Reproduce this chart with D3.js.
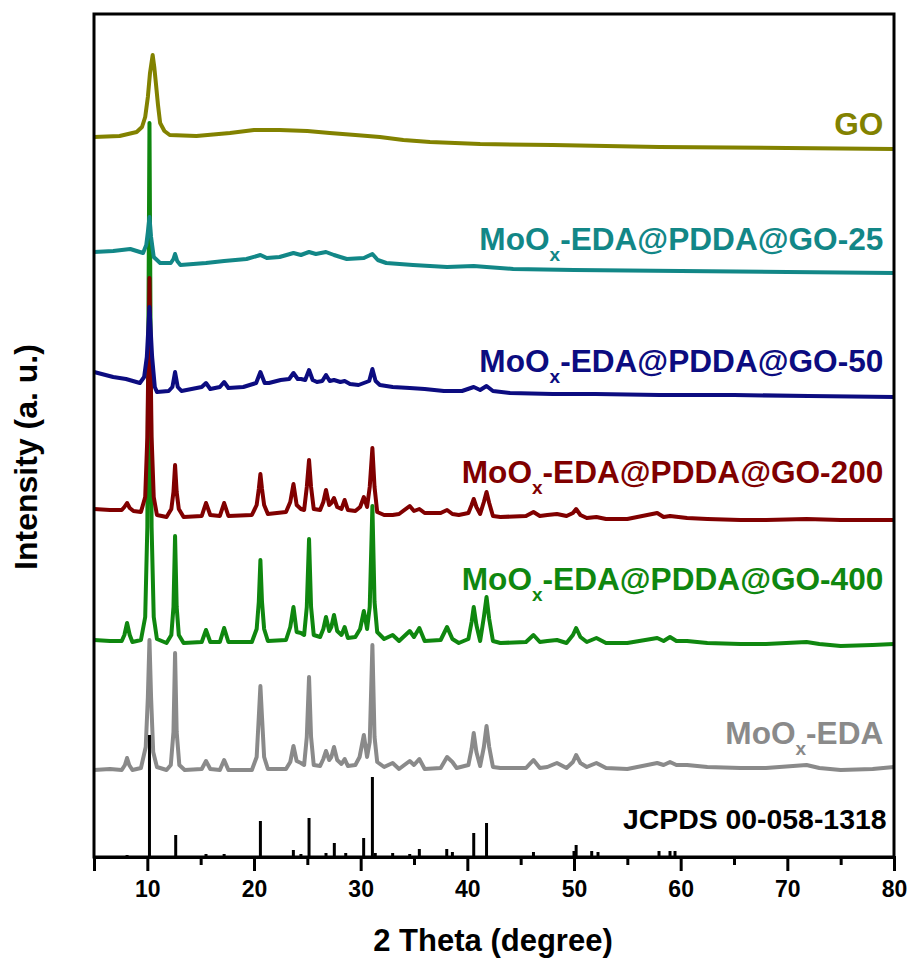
<!DOCTYPE html>
<html>
<head>
<meta charset="utf-8">
<script src="https://d3js.org/d3.v7.min.js"></script>
<style>
  body { margin: 0; background: #fff; }
  text { font-family: "Liberation Sans", Arial, sans-serif; font-weight: bold; }
</style>
</head>
<body>
<div id="graph"></div>
<script>
// XRD patterns, stacked with offsets (intensity in a. u.)
var majorTicks = [10, 20, 30, 40, 50, 60, 70, 80];
var minorTicks = [5, 15, 25, 35, 45, 55, 65, 75];

var seriesNames = ["GO", "-EDA@PDDA@GO-25", "-EDA@PDDA@GO-50", "-EDA@PDDA@GO-200", "-EDA@PDDA@GO-400", "-EDA", "JCPDS 00-058-1318"];
var seriesColors = ["#828200", "#128787", "#0c0c80", "#800000", "#0f870f", "#8a8a8a", "#000000"];

var goData = [[5,720],[7.4,721],[9.0,725],[9.5,730],[9.8,740],[10.05,760],[10.25,784],[10.5,802],[10.65,790],[10.8,774],[11.0,752],[11.2,734],[11.6,726],[12.1,722],[14.6,721],[17.75,724],[20,727],[22.4,727],[25,726],[27.1,724],[29.5,722],[31.8,720],[34,717],[36.5,715],[41.2,713],[48,712],[58,710],[70,709],[80,708]];

var go25Data = [[5,605],[6.8,606],[8.4,608],[9.6,604],[9.9,612],[10.05,625],[10.2,640],[10.35,620],[10.6,600],[11.2,594],[12.2,594],[12.45,598],[12.6,603],[12.8,596],[13.1,592],[15.5,594],[17.2,596],[19.3,598],[20.6,602],[21.2,599],[22.4,600],[23.7,604],[24.4,602],[25.16,605],[25.8,603],[26.75,605],[27.5,602],[28.7,598],[30.3,599],[31.1,603],[31.6,597],[32.4,594],[34.9,592],[38.1,590],[40.6,591],[41.8,590],[44.3,588],[50,587],[60,586],[70,585],[80,584]];

var go50Data = [[5,485],[6.8,480],[8.0,478],[9.3,474],[9.7,480],[9.95,500],[10.2,550],[10.45,500],[10.7,470],[10.9,465],[12.0,466],[12.35,470],[12.6,485],[12.85,470],[13.2,466],[15.1,470],[15.5,474],[15.9,468],[16.8,470],[17.2,475],[17.6,469],[19.0,470],[20.2,474],[20.6,485],[21.0,474],[21.4,474],[22.5,477],[23.3,478],[23.7,484],[24.1,478],[24.4,478],[24.8,477],[25.16,487],[25.5,477],[25.9,475],[26.4,476],[26.75,482],[27.1,476],[27.5,477],[28.1,475],[28.5,476],[29.0,473],[29.8,472],[30.3,474],[30.8,476],[31.1,488],[31.4,476],[31.8,472],[33.0,470],[34.6,469],[36.0,468],[37.8,466],[39.5,466],[40.6,470],[41.2,467],[41.8,471],[42.4,466],[44,464],[48,463],[52,463],[58,462],[65,462],[72,461],[80,460]];

var go200Data = [[5,348],[6.5,347],[7.6,347],[7.85,350],[8.1,354],[8.35,349],[8.7,346],[9.4,345],[9.8,360],[10.0,420],[10.2,579],[10.4,420],[10.6,360],[10.9,342],[11.8,340],[12.25,348],[12.45,365],[12.6,392],[12.75,365],[12.95,348],[13.4,340],[15.1,341],[15.5,354],[15.9,342],[16.8,341],[17.2,354],[17.6,341],[19.8,342],[20.25,352],[20.45,368],[20.6,383],[20.75,368],[20.95,352],[21.3,343],[23.0,345],[23.4,355],[23.7,373],[24.0,352],[24.4,348],[24.7,347],[24.95,370],[25.16,397],[25.35,370],[25.6,348],[26.2,347],[26.5,355],[26.75,367],[27.05,352],[27.25,354],[27.5,359],[27.8,350],[28.2,348],[28.5,357],[28.8,347],[29.5,346],[29.95,350],[30.3,360],[30.6,350],[30.85,370],[31.1,409],[31.3,370],[31.55,345],[32.2,342],[33.0,342],[33.6,343],[34.6,351],[35.0,346],[35.5,348],[36.0,344],[37.5,344],[38.1,347],[38.6,343],[39.2,342],[40.1,344],[40.4,352],[40.6,358],[40.85,350],[41.2,343],[41.55,355],[41.8,365],[42.05,354],[42.4,341],[43.1,340],[45.5,341],[46.2,345],[46.8,341],[47.5,342],[48.4,343],[49.3,341],[49.9,344],[50.2,348],[50.6,342],[51.2,339],[52.1,340],[53.0,338],[55,338],[57.8,344],[58.4,340],[59.0,341],[60.6,339],[62.5,338],[65.6,337],[68,337],[71.8,338],[75,337],[78,337],[80,337]];

var go400Data = [[5,217],[6.5,216],[7.6,216],[7.85,222],[8.1,234],[8.35,222],[8.6,215],[9.4,217],[9.8,240],[10.0,330],[10.2,734],[10.4,330],[10.6,240],[10.9,218],[11.8,214],[12.25,222],[12.45,250],[12.6,321],[12.75,250],[12.95,222],[13.4,214],[15.1,215],[15.5,227],[15.9,215],[16.8,215],[17.2,229],[17.6,215],[19.8,215],[20.25,228],[20.45,255],[20.6,297],[20.75,255],[20.95,228],[21.3,216],[23.0,217],[23.4,230],[23.7,250],[24.0,225],[24.4,224],[24.7,222],[24.95,250],[25.16,318],[25.35,250],[25.6,222],[26.2,220],[26.5,228],[26.75,240],[27.05,226],[27.25,230],[27.5,242],[27.8,226],[28.2,222],[28.5,230],[28.8,219],[29.5,220],[29.95,228],[30.3,246],[30.6,228],[30.85,250],[31.1,351],[31.3,255],[31.55,225],[32.2,218],[33.0,222],[33.6,216],[34.6,226],[35.0,220],[35.5,229],[36.0,216],[37.5,217],[38.1,230],[38.6,218],[39.2,214],[40.1,218],[40.4,235],[40.6,250],[40.85,232],[41.2,216],[41.55,240],[41.8,260],[42.05,238],[42.4,216],[43.1,214],[45.5,215],[46.2,222],[46.8,215],[47.5,216],[48.4,217],[49.3,214],[49.9,222],[50.2,229],[50.6,220],[51.2,215],[52.1,219],[53.0,214],[55,214],[57.8,219],[58.4,216],[59.0,220],[59.6,216],[60.6,216],[62.5,214],[65.6,213],[68,213],[71.8,215],[73,213],[75,211],[78,212],[80,213]];

var moEdaData = [[5,87],[6.5,88],[7.6,87],[7.9,92],[8.1,99],[8.3,92],[8.6,87],[9.4,89],[9.85,110],[10.05,160],[10.2,217],[10.35,160],[10.55,105],[10.9,90],[11.8,87],[12.2,92],[12.45,125],[12.6,204],[12.75,125],[13.0,92],[13.5,87],[15.1,88],[15.5,96],[15.9,88],[16.8,87],[17.2,97],[17.6,87],[19.8,87],[20.25,100],[20.45,140],[20.6,171],[20.75,140],[20.95,100],[21.3,88],[23.0,88],[23.4,95],[23.7,111],[24.0,96],[24.4,94],[24.7,92],[24.95,120],[25.16,180],[25.35,120],[25.6,92],[26.2,91],[26.5,98],[26.75,106],[27.05,97],[27.25,100],[27.5,110],[27.8,97],[28.2,93],[28.5,98],[28.8,91],[29.5,92],[29.9,100],[30.3,122],[30.6,100],[30.85,115],[31.1,212],[31.3,120],[31.55,95],[32.2,90],[33.0,94],[33.6,88],[34.6,96],[35.0,92],[35.5,98],[36.0,88],[37.5,89],[38.1,100],[38.6,95],[39.0,89],[40.1,92],[40.4,108],[40.6,124],[40.85,105],[41.2,91],[41.55,110],[41.8,131],[42.05,110],[42.4,90],[43.1,89],[45.5,89],[46.2,97],[46.8,89],[47.5,90],[48.4,94],[49.3,89],[49.9,95],[50.2,102],[50.6,94],[51.2,90],[52.1,94],[53.0,89],[55,88],[57.8,94],[58.4,92],[59.0,95],[59.6,92],[60.6,92],[62.5,90],[65.6,89],[68,89],[71.8,92],[73,89],[75,87],[78,88],[80,90]];

// reference card: [2theta, relative height]
var jcpdsSticks = [[8.1,2],[10.2,122],[12.66,22],[15.5,3],[17.2,3],[20.6,36],[23.69,7],[24.4,3],[25.16,39],[26.75,4],[27.53,14],[28.6,4],[30.28,19],[31.1,80],[31.37,4],[33.0,4],[34.6,3],[35.5,8],[38.07,8],[38.6,5],[40.6,24],[41.8,34],[46.2,5],[50.0,6],[50.2,12],[51.66,6],[52.25,5],[57.97,6],[59.0,6],[59.47,6]];

// label baselines, in intensity units
var labelLevels = [722, 607, 485, 374, 267, 113, 28];

// set the dimensions and margins of the graph
var margin = {top: 14, right: 18, bottom: 104, left: 94},
    width = 912 - margin.left - margin.right,
    height = 961 - margin.top - margin.bottom;

var svg = d3.select("#graph")
  .append("svg")
    .attr("width", 912)
    .attr("height", 961)
  .append("g")
    .attr("transform", "translate(" + margin.left + "," + margin.top + ")");

var x = d3.scaleLinear().domain([5, 80]).range([0, width]);
var y = d3.scaleLinear().domain([0, height]).range([height, 0]);

var line = d3.line()
  .x(function(d) { return x(d[0]); })
  .y(function(d) { return y(d[1]); });

// bottom-most first so upper patterns sit on top
var traces = [
  {data: moEdaData, color: seriesColors[5]},
  {data: go400Data, color: seriesColors[4]},
  {data: go200Data, color: seriesColors[3]},
  {data: go50Data, color: seriesColors[2]},
  {data: go25Data, color: seriesColors[1]},
  {data: goData, color: seriesColors[0]}
];

// reference sticks
svg.selectAll("line.stick")
  .data(jcpdsSticks)
  .enter()
  .append("line")
    .attr("class", "stick")
    .attr("x1", function(d) { return x(d[0]); })
    .attr("x2", function(d) { return x(d[0]); })
    .attr("y1", y(0))
    .attr("y2", function(d) { return y(d[1]); })
    .style("stroke", "#000")
    .style("stroke-width", 3);

svg.selectAll("path.trace")
  .data(traces)
  .enter()
  .append("path")
    .attr("class", "trace")
    .attr("d", function(d) { return line(d.data); })
    .style("fill", "none")
    .style("stroke", function(d) { return d.color; })
    .style("stroke-width", 4)
    .style("stroke-linejoin", "round");

// sticks overlay the grey pattern
svg.selectAll("line.stick").raise();
svg.selectAll("path.trace").filter(function(d, i) { return i > 0; }).raise();

// frame
svg.append("rect")
  .attr("width", width)
  .attr("height", height)
  .style("fill", "none")
  .style("stroke", "#000")
  .style("stroke-width", 3);

// X axis, major and minor ticks
var xAxis = svg.append("g")
  .attr("transform", "translate(0," + height + ")")
  .call(d3.axisBottom(x).tickValues(majorTicks).tickSize(14).tickPadding(10).tickFormat(d3.format("d")));
xAxis.select(".domain").style("stroke-width", 3);
xAxis.selectAll(".tick line").style("stroke-width", 3);
xAxis.selectAll(".tick text").style("font-size", "23px").style("font-family", "Liberation Sans, Arial").style("font-weight", "bold");

var xMinor = svg.append("g")
  .attr("transform", "translate(0," + height + ")")
  .call(d3.axisBottom(x).tickValues(minorTicks).tickSize(8).tickFormat(""));
xMinor.select(".domain").remove();
xMinor.selectAll(".tick line").style("stroke-width", 3);

// axis titles
svg.append("text")
  .attr("x", width / 2 - 1)
  .attr("y", 951 - margin.top)
  .attr("text-anchor", "middle")
  .style("font-size", "31px")
  .text("2 Theta (degree)");

svg.append("text")
  .attr("transform", "translate(" + (37 - margin.left) + "," + (457 - margin.top) + ") rotate(-90)")
  .attr("text-anchor", "middle")
  .style("font-size", "32px")
  .text("Intensity (a. u.)");

// series labels, right aligned
seriesNames.forEach(function(name, i) {
  var t = svg.append("text")
    .attr("x", i == 6 ? x(79.3) : x(79.0))
    .attr("y", y(labelLevels[i]))
    .attr("text-anchor", "end")
    .style("fill", seriesColors[i])
    .style("font-size", i == 6 ? "28.4px" : "31.6px");
  if (i == 0 || i == 6) {
    t.text(name);
  } else {
    t.append("tspan").text("MoO");
    t.append("tspan").attr("dy", 11).style("font-size", "19px").text("x");
    t.append("tspan").attr("dy", -11).text(name);
  }
});
</script>
</body>
</html>
